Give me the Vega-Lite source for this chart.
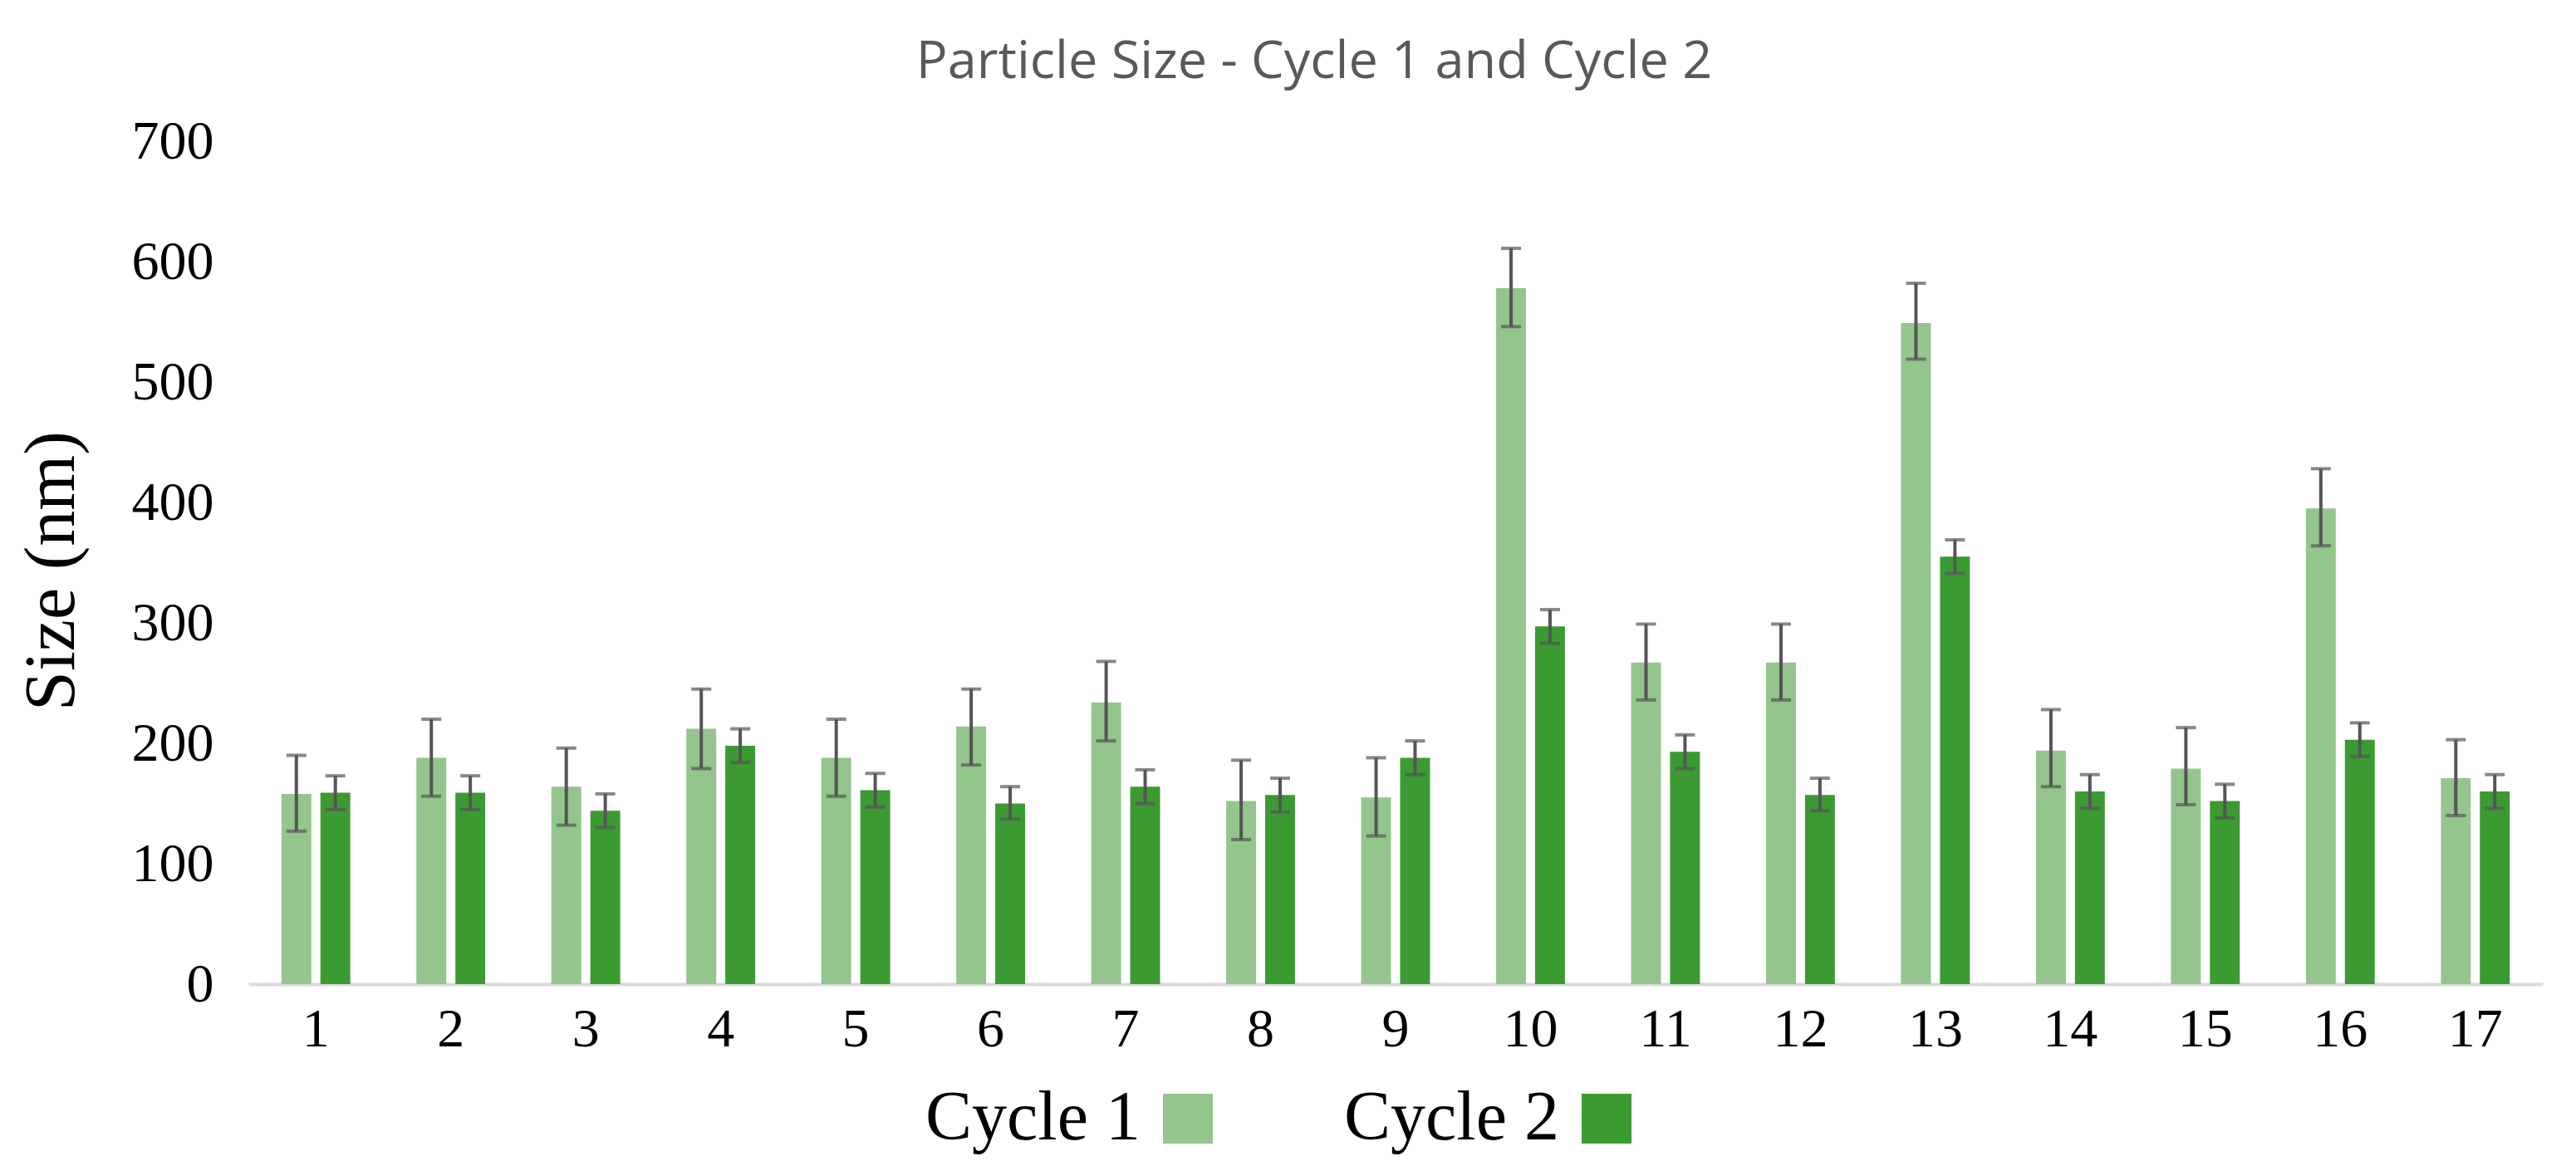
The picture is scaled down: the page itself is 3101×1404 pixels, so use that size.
{
  "$schema": "https://vega.github.io/schema/vega-lite/v6.json",
  "autosize": {"type": "none"},
  "padding": {"left": 299, "top": 170, "right": 40, "bottom": 219},
  "width": 2762,
  "height": 1015,
  "background": "white",
  "title": {
    "text": "Particle Size - Cycle 1 and Cycle 2",
    "font": "Open Sans",
    "fontSize": 63,
    "fontWeight": "normal",
    "color": "#595959",
    "anchor": "middle",
    "dx": -98,
    "offset": 30
  },
  "data": {
    "values": [
      {"n": 1, "cycle": "Cycle 1", "size": 158, "lo": 127, "hi": 190},
      {"n": 1, "cycle": "Cycle 2", "size": 159, "lo": 145, "hi": 173},
      {"n": 2, "cycle": "Cycle 1", "size": 188, "lo": 156, "hi": 220},
      {"n": 2, "cycle": "Cycle 2", "size": 159, "lo": 145, "hi": 173},
      {"n": 3, "cycle": "Cycle 1", "size": 164, "lo": 132, "hi": 196},
      {"n": 3, "cycle": "Cycle 2", "size": 144, "lo": 130, "hi": 158},
      {"n": 4, "cycle": "Cycle 1", "size": 212, "lo": 179, "hi": 245},
      {"n": 4, "cycle": "Cycle 2", "size": 198, "lo": 184, "hi": 212},
      {"n": 5, "cycle": "Cycle 1", "size": 188, "lo": 156, "hi": 220},
      {"n": 5, "cycle": "Cycle 2", "size": 161, "lo": 147, "hi": 175},
      {"n": 6, "cycle": "Cycle 1", "size": 214, "lo": 182, "hi": 245},
      {"n": 6, "cycle": "Cycle 2", "size": 150, "lo": 137, "hi": 164},
      {"n": 7, "cycle": "Cycle 1", "size": 234, "lo": 202, "hi": 268},
      {"n": 7, "cycle": "Cycle 2", "size": 164, "lo": 150, "hi": 178},
      {"n": 8, "cycle": "Cycle 1", "size": 152, "lo": 120, "hi": 186},
      {"n": 8, "cycle": "Cycle 2", "size": 157, "lo": 143, "hi": 171},
      {"n": 9, "cycle": "Cycle 1", "size": 155, "lo": 123, "hi": 188},
      {"n": 9, "cycle": "Cycle 2", "size": 188, "lo": 174, "hi": 202},
      {"n": 10, "cycle": "Cycle 1", "size": 578, "lo": 546, "hi": 611},
      {"n": 10, "cycle": "Cycle 2", "size": 297, "lo": 283, "hi": 311},
      {"n": 11, "cycle": "Cycle 1", "size": 267, "lo": 236, "hi": 299},
      {"n": 11, "cycle": "Cycle 2", "size": 193, "lo": 179, "hi": 207},
      {"n": 12, "cycle": "Cycle 1", "size": 267, "lo": 236, "hi": 299},
      {"n": 12, "cycle": "Cycle 2", "size": 157, "lo": 144, "hi": 171},
      {"n": 13, "cycle": "Cycle 1", "size": 549, "lo": 519, "hi": 582},
      {"n": 13, "cycle": "Cycle 2", "size": 355, "lo": 341, "hi": 369},
      {"n": 14, "cycle": "Cycle 1", "size": 194, "lo": 164, "hi": 228},
      {"n": 14, "cycle": "Cycle 2", "size": 160, "lo": 146, "hi": 174},
      {"n": 15, "cycle": "Cycle 1", "size": 179, "lo": 149, "hi": 213},
      {"n": 15, "cycle": "Cycle 2", "size": 152, "lo": 138, "hi": 166},
      {"n": 16, "cycle": "Cycle 1", "size": 395, "lo": 364, "hi": 428},
      {"n": 16, "cycle": "Cycle 2", "size": 203, "lo": 189, "hi": 217},
      {"n": 17, "cycle": "Cycle 1", "size": 171, "lo": 140, "hi": 203},
      {"n": 17, "cycle": "Cycle 2", "size": 160, "lo": 146, "hi": 174}
    ]
  },
  "encoding": {
    "x": {
      "field": "n",
      "type": "ordinal",
      "title": null,
      "scale": {"paddingInner": 0.49, "paddingOuter": 0.245},
      "axis": {
        "labelAngle": 0,
        "labelFont": "Liberation Serif",
        "labelFontSize": 66,
        "labelColor": "black",
        "labelPadding": 22,
        "ticks": false,
        "domainColor": "#d9d9d9",
        "domainWidth": 4,
        "grid": false
      }
    },
    "xOffset": {
      "field": "cycle",
      "type": "nominal",
      "scale": {"paddingInner": 0.234, "paddingOuter": 0}
    }
  },
  "layer": [
    {
      "mark": {"type": "bar"},
      "encoding": {
        "y": {
          "field": "size",
          "type": "quantitative",
          "title": "Size (nm)",
          "scale": {"domain": [0, 700], "nice": false},
          "axis": {
            "values": [0, 100, 200, 300, 400, 500, 600, 700],
            "labelFont": "Liberation Serif",
            "labelFontSize": 66,
            "labelColor": "black",
            "labelPadding": 42,
            "ticks": false,
            "domain": false,
            "grid": false,
            "titleFont": "Liberation Serif",
            "titleFontSize": 86,
            "titleFontWeight": "normal",
            "titleColor": "black",
            "titleBaseline": "alphabetic",
            "titleAngle": 270,
            "titleX": -211,
            "titleY": 517
          }
        },
        "color": {
          "field": "cycle",
          "type": "nominal",
          "scale": {"domain": ["Cycle 1", "Cycle 2"], "range": ["#93c58c", "#3b9a32"]},
          "legend": {
            "title": null,
            "orient": "none",
            "direction": "horizontal",
            "legendX": 1089,
            "legendY": 1135,
            "symbolType": "square",
            "symbolSize": 3600,
            "symbolStrokeWidth": 0,
            "symbolOpacity": 1,
            "labelFont": "Liberation Serif",
            "labelFontSize": 84,
            "labelColor": "black",
            "labelAlign": "right",
            "labelOffset": -99,
            "labelLimit": 0,
            "columnPadding": 158
          }
        }
      }
    },
    {
      "mark": {"type": "rule", "color": "#555555", "strokeWidth": 4},
      "encoding": {
        "y": {"field": "lo", "type": "quantitative"},
        "y2": {"field": "hi"}
      }
    },
    {
      "mark": {"type": "tick", "color": "#555555", "thickness": 4, "size": 24, "orient": "horizontal"},
      "encoding": {
        "y": {"field": "hi", "type": "quantitative"}
      }
    },
    {
      "mark": {"type": "tick", "color": "#555555", "thickness": 4, "size": 24, "orient": "horizontal"},
      "encoding": {
        "y": {"field": "lo", "type": "quantitative"}
      }
    }
  ],
  "config": {
    "view": {"stroke": null}
  }
}
